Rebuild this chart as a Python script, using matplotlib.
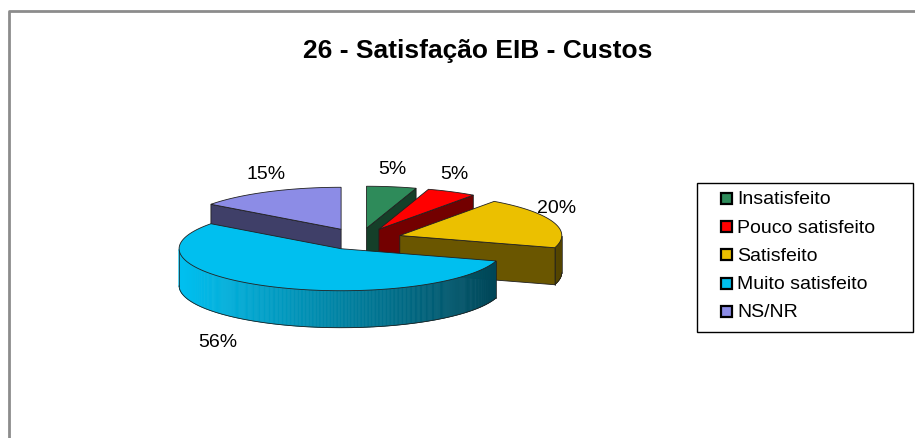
import numpy as np
import matplotlib.pyplot as plt
from matplotlib.patches import Polygon, Rectangle
from matplotlib.colors import to_rgb

plt.rcParams['font.family'] = ['Liberation Sans', 'DejaVu Sans']

# Chart data
title = '26 - Satisfação EIB - Custos'
categories = ['Insatisfeito', 'Pouco satisfeito', 'Satisfeito', 'Muito satisfeito', 'NS/NR']
values = [5, 5, 20, 56, 15]
colors = ['#2E8B5A', '#FF0000', '#EBC000', '#00BFEF', '#8C8CE6']

# Pie geometry in pixel units (3D look: flattened ellipse + side depth)
cx, cy = 360, 240
rx, ry = 162, 42
depth = 37
explode = 42


def shade(c, f):
    r, g, b = to_rgb(c)
    return (min(r * f, 1), min(g * f, 1), min(b * f, 1))


def pt(x0, y0, a, dz=0):
    t = np.radians(a)
    return (x0 + rx * np.cos(t), y0 - ry * np.sin(t) + dz)


fig = plt.figure(figsize=(9.15, 4.39), dpi=100)
ax = fig.add_axes([0, 0, 1, 1])
ax.set_xlim(0, 915)
ax.set_ylim(439, 0)
ax.axis('off')

# chart frame (only the top and left edges are in view)
ax.plot([9, 9, 915], [439, 12, 12], color='#8C8C8C', lw=2, solid_capstyle='butt')
ax.text(478, 51, title, ha='center', va='center', fontsize=19, fontweight='bold')

total = sum(values)
slices = []
start = 90.0
for v, c in zip(values, colors):
    span = v / total * 360
    a2 = start
    a1 = start - span
    start = a1
    m = np.radians((a1 + a2) / 2)
    ox = cx + explode * np.cos(m)
    oy = cy - explode * np.sin(m) * ry / rx
    slices.append((a1, a2, ox, oy, c, v, m))

# back-to-front drawing order
order = sorted(range(len(slices)), key=lambda i: -np.sin(slices[i][6]))
z = 2
edge = '#202020'
for i in order:
    a1, a2, ox, oy, c, v, m = slices[i]
    # radial cut faces facing the viewer
    for a, vis in ((a1, np.cos(np.radians(a1)) > 0.01), (a2, np.cos(np.radians(a2)) < -0.01)):
        if vis:
            p = pt(ox, oy, a)
            quad = [(ox, oy), p, (p[0], p[1] + depth), (ox, oy + depth)]
            ax.add_patch(Polygon(quad, closed=True, fc=shade(c, 0.45), ec=edge, lw=0.6, zorder=z))
    z += 1
    # outer curved wall (front half only), shaded left to right
    ts = np.linspace(a1, a2, int(abs(a2 - a1)) * 2 + 2)
    front = [t for t in ts if np.sin(np.radians(t)) < 0]
    if len(front) > 1:
        for t0, t1 in zip(front[:-1], front[1:]):
            tm = np.radians((t0 + t1) / 2)
            f = np.clip(0.68 - 0.33 * np.cos(tm), 0.3, 1.0)
            p0, p1 = pt(ox, oy, t0), pt(ox, oy, t1)
            quad = [p0, p1, (p1[0], p1[1] + depth), (p0[0], p0[1] + depth)]
            col = shade(c, f)
            ax.add_patch(Polygon(quad, closed=True, fc=col, ec=col, lw=0.4, zorder=z))
        top_arc = np.array([pt(ox, oy, t) for t in front])
        ax.plot(top_arc[:, 0], top_arc[:, 1] + depth, color=edge, lw=0.6, zorder=z)
        for t in (front[0], front[-1]):
            p = pt(ox, oy, t)
            ax.plot([p[0], p[0]], [p[1], p[1] + depth], color=edge, lw=0.5, zorder=z)
    z += 1
    # top face
    arc = [pt(ox, oy, t) for t in ts]
    ax.add_patch(Polygon([(ox, oy)] + arc, closed=True, fc=c, ec=edge, lw=0.6, zorder=z))
    z += 1

# data labels: just outside the rim, along the rim's outward normal
for a1, a2, ox, oy, c, v, m in slices:
    ex, ey = pt(ox, oy, np.degrees(m))
    nx, ny = np.cos(m) / rx, np.sin(m) / ry
    n = np.hypot(nx, ny)
    nx, ny = nx / n, ny / n
    if ny < 0:
        ey += depth
    d = 18
    lx = ex + d * nx - 48 * (nx < 0) * (ny < 0) - 8 * (nx > 0.5)
    ly = ey - d * ny
    ax.text(lx, ly, f'{v}%', ha='center', va='center', fontsize=14, zorder=50)

# legend box drawn by hand to match the spreadsheet layout
lx0, ly0, lw_, lh_ = 697, 184, 216, 149
ax.add_patch(Rectangle((lx0, ly0), lw_, lh_, fc='white', ec='black', lw=1, zorder=60))
row_h = 28.2
for k, (name, c) in enumerate(zip(categories, colors)):
    yy = ly0 + 16 + k * row_h
    ax.add_patch(Rectangle((721, yy - 6), 11, 11, fc=c, ec='black', lw=1.6, zorder=61))
    ax.text(737, yy, name, ha='left', va='center', fontsize=14, zorder=61)

plt.savefig('out.png', dpi=100)
